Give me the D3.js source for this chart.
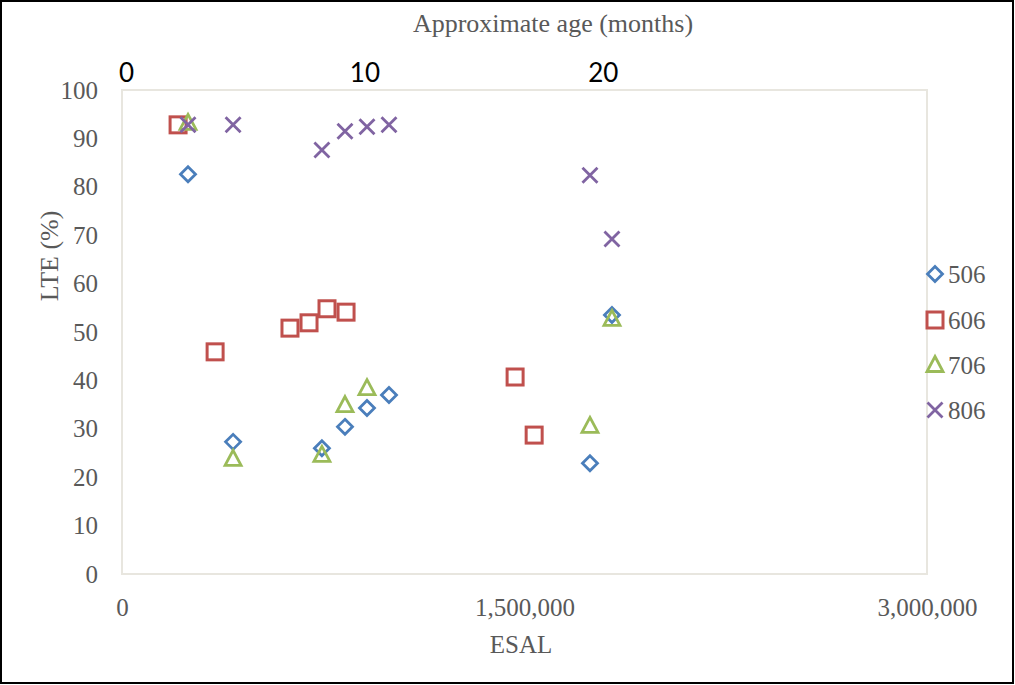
<!DOCTYPE html>
<html><head><meta charset="utf-8">
<script src="https://d3js.org/d3.v7.min.js"></script>
<style>body{margin:0;background:#fff;} svg{display:block;}</style>
</head><body>
<script>
// ---- data ----
const seriesNames = ["506", "606", "706", "806"];
const esal506 = [246000, 414000, 745000, 831000, 913000, 995000, 1744000, 1826000];
const lte506  = [82.6, 27.3, 26.0, 30.4, 34.3, 37.0, 22.9, 53.5];
const esal606 = [209000, 347000, 626000, 697000, 764000, 835000, 1465000, 1536000];
const lte606  = [92.8, 45.9, 50.8, 51.9, 54.8, 54.1, 40.7, 28.7];
const esal706 = [246000, 414000, 745000, 831000, 913000, 1744000, 1826000];
const lte706  = [93.2, 23.8, 24.6, 34.9, 38.4, 30.6, 52.7];
const esal806 = [246000, 414000, 745000, 831000, 913000, 995000, 1744000, 1826000];
const lte806  = [92.8, 92.8, 87.6, 91.5, 92.4, 92.8, 82.4, 69.2];
const yTicks = [0, 10, 20, 30, 40, 50, 60, 70, 80, 90, 100];
const xTicks = [0, 1500000, 3000000];
const monthTicks = [0, 10, 20];
const colors = ["#4a7ebb", "#c0504d", "#9bbb59", "#8064a2"];
const shapes = ["diamond", "square", "triangle", "cross"];

const W = 1015, H = 685;
const L = 122, R = 927, T = 90, B = 574;
const svg = d3.select("body").append("svg").attr("width", W).attr("height", H);
svg.append("rect").attr("x", 1).attr("y", 1).attr("width", W - 3).attr("height", H - 3)
  .attr("fill", "#fff").attr("stroke", "#000").attr("stroke-width", 2);

const x = d3.scaleLinear().domain([0, 3000000]).range([L, R]);
const y = d3.scaleLinear().domain([0, 100]).range([B, T]);
const xm = d3.scaleLinear().domain([0, 33.6]).range([L + 4, R]);

// plot area frame
svg.append("rect").attr("x", L).attr("y", T).attr("width", R - L).attr("height", B - T)
  .attr("fill", "none").attr("stroke", "#e8e6df").attr("stroke-width", 2);

const serif = "'Liberation Serif','Times New Roman',serif";
const gray = "#595959";

// y axis
const yAxis = svg.append("g").attr("transform", `translate(${L},0)`)
  .call(d3.axisLeft(y).tickValues(yTicks).tickSize(0).tickPadding(24));
yAxis.select(".domain").remove();
yAxis.selectAll("text").attr("font-family", serif).attr("font-size", 25).attr("fill", gray);

// x axis
const xAxis = svg.append("g").attr("transform", `translate(0,${B})`)
  .call(d3.axisBottom(x).tickValues(xTicks).tickSize(0).tickPadding(24).tickFormat(d3.format(",")));
xAxis.select(".domain").remove();
xAxis.selectAll("text").attr("font-family", serif).attr("font-size", 25).attr("fill", gray);

// top axis (months)
const tAxis = svg.append("g").attr("transform", `translate(0,${T - 8})`)
  .call(d3.axisTop(xm).tickValues(monthTicks).tickSize(0).tickPadding(0));
tAxis.select(".domain").remove();
tAxis.selectAll("text").attr("font-family", "Lato, 'Open Sans', sans-serif").attr("font-size", 26).attr("fill", "#000");

// titles
svg.append("text").attr("x", 553).attr("y", 32).attr("text-anchor", "middle")
  .attr("font-family", serif).attr("font-size", 26).attr("fill", gray).text("Approximate age (months)");
svg.append("text").attr("x", 521).attr("y", 653).attr("text-anchor", "middle")
  .attr("font-family", serif).attr("font-size", 25).attr("fill", gray).text("ESAL");
svg.append("text").attr("transform", "translate(58,256) rotate(-90)").attr("text-anchor", "middle")
  .attr("font-family", serif).attr("font-size", 26).attr("fill", gray).text("LTE (%)");

function marker(g, shape, color) {
  if (shape === "diamond") {
    const s = 7.5;
    g.append("path").attr("d", `M0,${-s}L${s},0L0,${s}L${-s},0Z`)
      .attr("fill", "none").attr("stroke", color).attr("stroke-width", 2.8);
  } else if (shape === "square") {
    g.append("rect").attr("x", -8).attr("y", -8).attr("width", 16).attr("height", 16)
      .attr("fill", "none").attr("stroke", color).attr("stroke-width", 3);
  } else if (shape === "triangle") {
    g.append("path").attr("d", `M0,-8.5L8,6.5L-8,6.5Z`)
      .attr("fill", "none").attr("stroke", color).attr("stroke-width", 2.8);
  } else {
    g.append("path").attr("d", `M-7.5,-7.5L7.5,7.5M7.5,-7.5L-7.5,7.5`)
      .attr("fill", "none").attr("stroke", color).attr("stroke-width", 2.8);
  }
}

const data = [
  esal506.map((e, i) => [e, lte506[i]]),
  esal606.map((e, i) => [e, lte606[i]]),
  esal706.map((e, i) => [e, lte706[i]]),
  esal806.map((e, i) => [e, lte806[i]])
];
data.forEach((pts, si) => {
  pts.forEach(p => {
    const g = svg.append("g").attr("transform", `translate(${x(p[0])},${y(p[1])})`);
    marker(g, shapes[si], colors[si]);
  });
});

// legend
const legY = [274, 320, 365, 410];
seriesNames.forEach((n, i) => {
  const g = svg.append("g").attr("transform", `translate(935,${legY[i]})`);
  marker(g, shapes[i], colors[i]);
  g.append("text").attr("x", 13).attr("y", 8.5).attr("font-family", serif).attr("font-size", 25)
    .attr("fill", gray).text(n);
});
</script>
</body></html>
